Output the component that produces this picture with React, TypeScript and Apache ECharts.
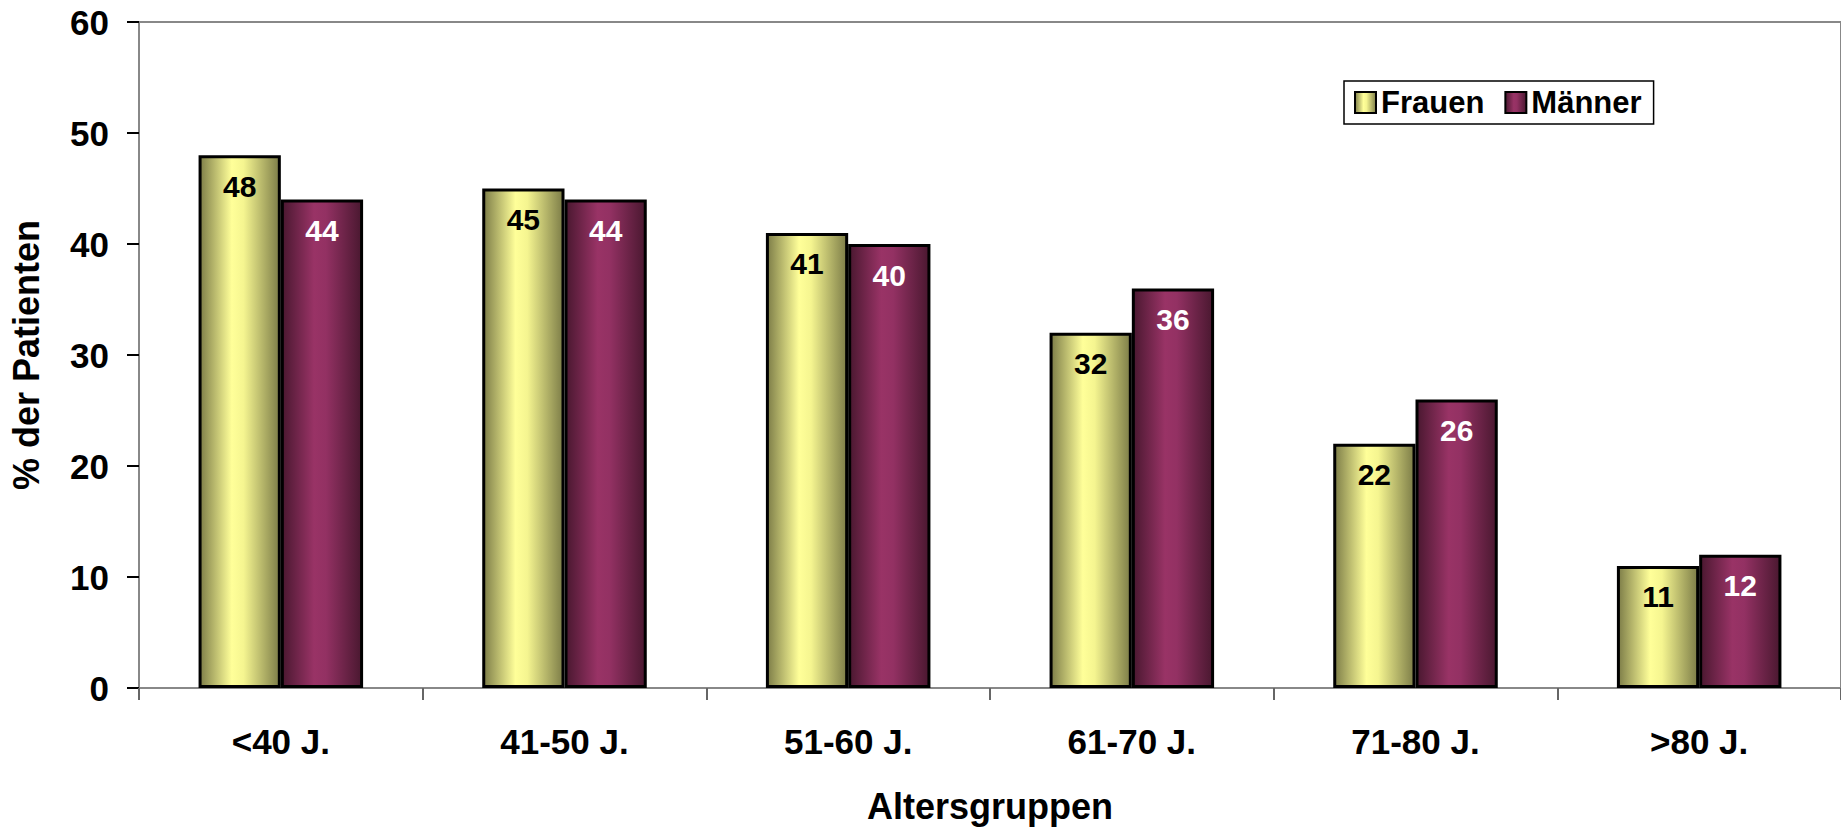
import React, { useEffect, useRef } from "react";
import * as echarts from "echarts";

const categories = ["<40 J.", "41-50 J.", "51-60 J.", "61-70 J.", "71-80 J.", ">80 J."];
const frauen = [48, 45, 41, 32, 22, 11];
const maenner = [44, 44, 40, 36, 26, 12];
const yTicks = { min: 0, max: 60, interval: 10 };

const FONT = "'Liberation Sans', Arial, Helvetica, sans-serif";

const yellowGrad = new echarts.graphic.LinearGradient(0, 0, 1, 0, [
  { offset: 0, color: "#7d7d48" },
  { offset: 0.4, color: "#ffff99" },
  { offset: 0.55, color: "#f5f590" },
  { offset: 1, color: "#7d7d48" },
]);
const magentaGrad = new echarts.graphic.LinearGradient(0, 0, 1, 0, [
  { offset: 0, color: "#4a1830" },
  { offset: 0.4, color: "#993366" },
  { offset: 0.55, color: "#933163" },
  { offset: 1, color: "#4a1830" },
]);

export default function App() {
  const ref = useRef<HTMLDivElement>(null);
  useEffect(() => {
    if (!ref.current) return;
    const chart = echarts.init(ref.current, null, { renderer: "svg" });
    chart.setOption({
      animation: false,
      backgroundColor: "#ffffff",
      textStyle: { fontFamily: FONT },
      grid: {
        left: 139,
        top: 22,
        right: 0,
        bottom: 140,
        show: true,
        borderColor: "#888888",
        borderWidth: 2,
      },
      legend: {
        left: 1344,
        top: 81,
        padding: [6, 12, 6, 10],
        itemGap: 20,
        itemWidth: 21,
        itemHeight: 21,
        borderColor: "#000000",
        borderWidth: 1.5,
        borderRadius: 0,
        backgroundColor: "#ffffff",
        icon: "rect",
        textStyle: { fontFamily: FONT, fontSize: 31, fontWeight: "bold", color: "#000" },
        data: ["Frauen", "Männer"],
      },
      xAxis: {
        type: "category",
        data: categories,
        name: "Altersgruppen",
        nameLocation: "middle",
        nameGap: 100,
        nameTextStyle: { fontFamily: FONT, fontSize: 36, fontWeight: "bold", color: "#000" },
        axisLine: { lineStyle: { color: "#888888", width: 2 } },
        axisTick: { show: true, length: 12, lineStyle: { color: "#666666", width: 2 }, alignWithLabel: false },
        axisLabel: { fontFamily: FONT, fontSize: 35, fontWeight: "bold", color: "#000", margin: 36 },
        splitLine: { show: false },
      },
      yAxis: {
        type: "value",
        min: yTicks.min,
        max: yTicks.max,
        interval: yTicks.interval,
        name: "% der Patienten",
        nameLocation: "middle",
        nameGap: 95,
        nameRotate: 90,
        nameTextStyle: { fontFamily: FONT, fontSize: 36, fontWeight: "bold", color: "#000" },
        axisLine: { show: true, lineStyle: { color: "#888888", width: 2 } },
        axisTick: { show: true, length: 12, lineStyle: { color: "#000000", width: 2 } },
        axisLabel: { fontFamily: FONT, fontSize: 35, fontWeight: "bold", color: "#000", margin: 30 },
        splitLine: { show: false },
      },
      series: [
        {
          name: "Frauen",
          type: "bar",
          data: frauen,
          barGap: "0%",
          barCategoryGap: "42%",
          itemStyle: { color: yellowGrad, borderColor: "#000", borderWidth: 3 },
          label: {
            show: true,
            position: "insideTop",
            distance: 16,
            fontFamily: FONT,
            fontSize: 30,
            fontWeight: "bold",
            color: "#000",
          },
        },
        {
          name: "Männer",
          type: "bar",
          data: maenner,
          itemStyle: { color: magentaGrad, borderColor: "#000", borderWidth: 3 },
          label: {
            show: true,
            position: "insideTop",
            distance: 16,
            fontFamily: FONT,
            fontSize: 30,
            fontWeight: "bold",
            color: "#fff",
          },
        },
      ],
    });
    return () => chart.dispose();
  }, []);
  return (
    <div
      ref={ref}
      style={{ position: "fixed", left: 0, top: 0, width: 1841, height: 829, background: "#fff" }}
    />
  );
}
